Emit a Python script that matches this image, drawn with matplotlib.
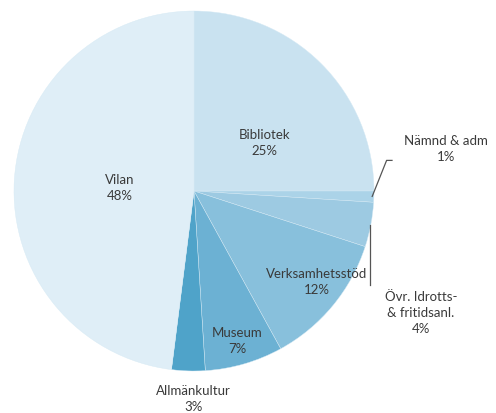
import matplotlib.pyplot as plt

# andelar i procent, medurs fran kl 12
kategorier = ['Bibliotek', 'Nämnd & adm', 'Övr. Idrotts-\n& fritidsanl.', 'Verksamhetsstöd',
              'Museum', 'Allmänkultur', 'Vilan']
andelar = [25, 1, 4, 12, 7, 3, 48]
farger = ['#c9e2f0', '#abd3e8', '#9dcae2', '#88c0dc', '#6cb1d3', '#4fa3c9', '#dfeef7']

# etikettpositioner (i pajens koordinater, radie 1)
etikett_pos = [(0.39, 0.27), (1.40, 0.24), (1.26, -0.67), (0.68, -0.50),
               (0.24, -0.83), (-0.005, -1.15), (-0.41, 0.02)]

plt.rcParams['font.family'] = ['Lato', 'DejaVu Sans']

fig = plt.figure(figsize=(4.96, 4.14), dpi=100)
cx, cy, R = 194, 192, 180
ax = fig.add_axes([(cx - R) / 496, (414 - cy - R) / 414, 2 * R / 496, 2 * R / 414])
ax.pie(andelar, colors=farger, startangle=90, counterclock=False, radius=1,
       wedgeprops=dict(edgecolor='#d6eaf5', linewidth=0.3))
ax.set_xlim(-1, 1)
ax.set_ylim(-1, 1)
ax.axis('off')

for namn, v, (x, y) in zip(kategorier, andelar, etikett_pos):
    ax.text(x, y, f'{namn}\n{v}%', ha='center', va='center', fontsize=9.5,
            color='#3a3a3a', linespacing=1.4, clip_on=False)

# hanvisningslinjer
ax.plot([0.99, 1.07, 1.10], [-0.03, 0.17, 0.17], color='#555555', lw=0.9, clip_on=False)
ax.plot([0.98, 0.98], [-0.19, -0.52], color='#555555', lw=0.9, clip_on=False)

fig.savefig('out.png', dpi=100)
